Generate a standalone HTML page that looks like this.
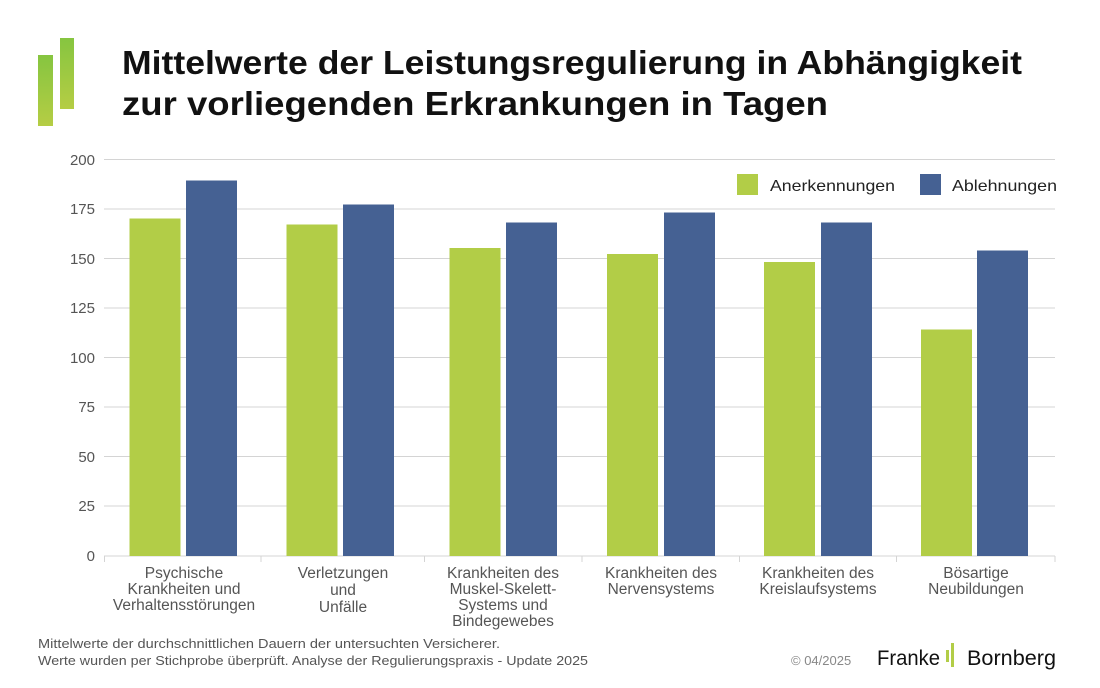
<!DOCTYPE html>
<html><head><meta charset="utf-8"><style>
html,body{margin:0;padding:0;background:#fff;}
svg{display:block;font-family:"Liberation Sans",sans-serif;}
</style></head><body>
<svg width="1100" height="688" viewBox="0 0 1100 688" xmlns="http://www.w3.org/2000/svg">
<defs><linearGradient id="lg" x1="0" y1="0" x2="0" y2="1"><stop offset="0" stop-color="#86c540"/><stop offset="1" stop-color="#b5cd44"/></linearGradient></defs>
<rect x="38" y="55" width="15" height="71" fill="url(#lg)"/>
<rect x="60" y="38" width="14" height="71" fill="url(#lg)"/>
<text x="122" y="74" font-size="33" font-weight="bold" fill="#111" textLength="900" lengthAdjust="spacingAndGlyphs">Mittelwerte der Leistungsregulierung in Abhängigkeit</text>
<text x="122" y="115" font-size="33" font-weight="bold" fill="#111" textLength="706" lengthAdjust="spacingAndGlyphs">zur vorliegenden Erkrankungen in Tagen</text>
<g stroke="#d4d4d4" stroke-width="1">
<line x1="104" y1="159.5" x2="1055" y2="159.5"/><line x1="104" y1="209" x2="1055" y2="209"/>
<line x1="104" y1="258.5" x2="1055" y2="258.5"/><line x1="104" y1="308" x2="1055" y2="308"/>
<line x1="104" y1="357.5" x2="1055" y2="357.5"/><line x1="104" y1="407" x2="1055" y2="407"/>
<line x1="104" y1="456.5" x2="1055" y2="456.5"/><line x1="104" y1="506" x2="1055" y2="506"/>
<line x1="104" y1="556" x2="1055" y2="556"/>
<line x1="104.5" y1="556" x2="104.5" y2="562"/><line x1="261" y1="556" x2="261" y2="562"/>
<line x1="424.5" y1="556" x2="424.5" y2="562"/><line x1="582" y1="556" x2="582" y2="562"/>
<line x1="739.5" y1="556" x2="739.5" y2="562"/><line x1="896.5" y1="556" x2="896.5" y2="562"/>
<line x1="1055" y1="556" x2="1055" y2="562"/>
</g>
<g font-size="15" fill="#555" text-anchor="end">
<text x="95" y="165">200</text><text x="95" y="214">175</text><text x="95" y="264">150</text>
<text x="95" y="313">125</text><text x="95" y="363">100</text><text x="95" y="412">75</text>
<text x="95" y="462">50</text><text x="95" y="511">25</text><text x="95" y="561">0</text>
</g>
<g fill="#b2cd47">
<rect x="129.5" y="218.5" width="51" height="337.5"/>
<rect x="286.5" y="224.5" width="51" height="331.5"/>
<rect x="449.5" y="248" width="51" height="308"/>
<rect x="607" y="254" width="51" height="302"/>
<rect x="764" y="262" width="51" height="294"/>
<rect x="921" y="329.5" width="51" height="226.5"/>
</g>
<g fill="#456193">
<rect x="186" y="180.5" width="51" height="375.5"/>
<rect x="343" y="204.5" width="51" height="351.5"/>
<rect x="506" y="222.5" width="51" height="333.5"/>
<rect x="664" y="212.5" width="51" height="343.5"/>
<rect x="821" y="222.5" width="51" height="333.5"/>
<rect x="977" y="250.5" width="51" height="305.5"/>
</g>
<rect x="737" y="174" width="21" height="21" fill="#b2cd47"/>
<text x="770" y="191" font-size="16" fill="#222" textLength="125" lengthAdjust="spacingAndGlyphs">Anerkennungen</text>
<rect x="920" y="174" width="21" height="21" fill="#456193"/>
<text x="952" y="191" font-size="16" fill="#222" textLength="105" lengthAdjust="spacingAndGlyphs">Ablehnungen</text>
<g font-size="15.5" fill="#555" text-anchor="middle">
<text x="184" y="578">Psychische</text><text x="184" y="594">Krankheiten und</text><text x="184" y="610">Verhaltensstörungen</text>
<text x="343" y="578">Verletzungen</text><text x="343" y="595">und</text><text x="343" y="612">Unfälle</text>
<text x="503" y="578">Krankheiten des</text><text x="503" y="594">Muskel-Skelett-</text><text x="503" y="610">Systems und</text><text x="503" y="626">Bindegewebes</text>
<text x="661" y="578">Krankheiten des</text><text x="661" y="594">Nervensystems</text>
<text x="818" y="578">Krankheiten des</text><text x="818" y="594">Kreislaufsystems</text>
<text x="976" y="578">Bösartige</text><text x="976" y="594">Neubildungen</text>
</g>
<text x="38" y="648" font-size="13" fill="#555" textLength="462" lengthAdjust="spacingAndGlyphs">Mittelwerte der durchschnittlichen Dauern der untersuchten Versicherer.</text>
<text x="38" y="665" font-size="13" fill="#555" textLength="550" lengthAdjust="spacingAndGlyphs">Werte wurden per Stichprobe überprüft. Analyse der Regulierungspraxis - Update 2025</text>
<text x="791" y="665" font-size="13" fill="#888">© 04/2025</text>
<text x="877" y="665" font-size="21" fill="#111" textLength="63" lengthAdjust="spacingAndGlyphs">Franke</text>
<rect x="946" y="650" width="3" height="12" fill="#b2cd47"/>
<rect x="951" y="643" width="3" height="24" fill="#b2cd47"/>
<text x="967" y="665" font-size="21" fill="#111" textLength="89" lengthAdjust="spacingAndGlyphs">Bornberg</text>
</svg>
</body></html>
